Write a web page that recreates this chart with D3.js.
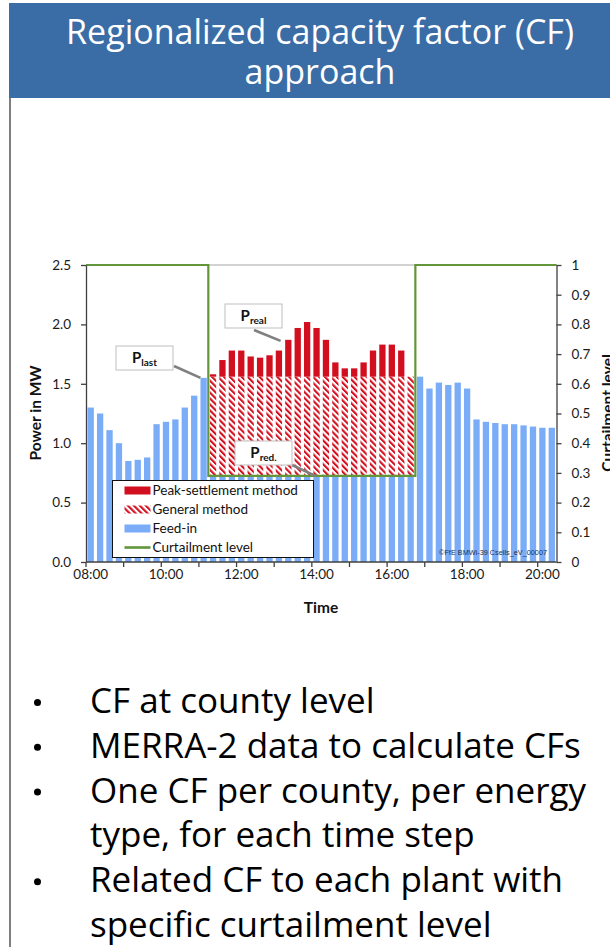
<!DOCTYPE html>
<html>
<head>
<meta charset="utf-8">
<script src="https://cdn.jsdelivr.net/npm/d3@7/dist/d3.min.js"></script>
<style>
  html, body { margin: 0; padding: 0; background: #fff; }
  svg { display: block; }
</style>
</head>
<body>
<svg id="slide" width="610" height="947"></svg>
<script>
// Quarter-hour time steps (categories)
const times = [
  "08:00","08:15","08:30","08:45","09:00","09:15","09:30","09:45",
  "10:00","10:15","10:30","10:45","11:00","11:15","11:30","11:45",
  "12:00","12:15","12:30","12:45","13:00","13:15","13:30","13:45",
  "14:00","14:15","14:30","14:45","15:00","15:15","15:30","15:45",
  "16:00","16:15","16:30","16:45","17:00","17:15","17:30","17:45",
  "18:00","18:15","18:30","18:45","19:00","19:15","19:30","19:45",
  "20:00","20:15"
];

// Feed-in power in MW
const feedIn = [
  1.30, 1.25, 1.11, 1.00, 0.85, 0.86, 0.88, 1.16, 1.18, 1.20, 1.30, 1.40, 1.55,
  0.73, 0.73, 0.73, 0.73, 0.73, 0.73, 0.73, 0.73, 0.73, 0.73, 0.73,
  0.73, 0.73, 0.73, 0.73, 0.73, 0.73, 0.73, 0.73, 0.73, 0.73, 0.73,
  1.56, 1.46, 1.51, 1.49, 1.51, 1.46, 1.20, 1.18, 1.17, 1.16, 1.16, 1.15, 1.14, 1.13, 1.13
];

// Upper edge of the general-method block (P_red) in MW, null outside the curtailment
const generalLevel = [
  null, null, null, null, null, null, null, null, null, null, null, null, null,
  1.56, 1.56, 1.56, 1.56, 1.56, 1.56, 1.56, 1.56, 1.56, 1.56, 1.56,
  1.56, 1.56, 1.56, 1.56, 1.56, 1.56, 1.56, 1.56, 1.56, 1.56, 1.56,
  null, null, null, null, null, null, null, null, null, null, null, null, null, null, null
];

// Real power (P_real) in MW, upper edge of the peak-settlement block
const realPower = [
  null, null, null, null, null, null, null, null, null, null, null, null, null,
  1.58, 1.70, 1.78, 1.78, 1.73, 1.72, 1.74, 1.78, 1.87, 1.97, 2.02,
  1.97, 1.87, 1.68, 1.63, 1.63, 1.68, 1.78, 1.83, 1.83, 1.78, 1.56,
  null, null, null, null, null, null, null, null, null, null, null, null, null, null, null
];

// Curtailment level (share of installed capacity)
const curtailment = [
  1, 1, 1, 1, 1, 1, 1, 1, 1, 1, 1, 1, 1,
  0.29, 0.29, 0.29, 0.29, 0.29, 0.29, 0.29, 0.29, 0.29, 0.29, 0.29,
  0.29, 0.29, 0.29, 0.29, 0.29, 0.29, 0.29, 0.29, 0.29, 0.29, 0.29,
  1, 1, 1, 1, 1, 1, 1, 1, 1, 1, 1, 1, 1, 1, 1
];

const powerTicks = [0, 0.5, 1.0, 1.5, 2.0, 2.5];
const levelTicks = [0, 0.1, 0.2, 0.3, 0.4, 0.5, 0.6, 0.7, 0.8, 0.9, 1];
const timeLabels = ["08:00", "10:00", "12:00", "14:00", "16:00", "18:00", "20:00"];
const hourMarks = ["08:00","09:00","10:00","11:00","12:00","13:00","14:00","15:00","16:00","17:00","18:00","19:00","20:00"];

const legendItems = [
  { label: "Peak-settlement method", kind: "peak" },
  { label: "General method", kind: "general" },
  { label: "Feed-in", kind: "feed" },
  { label: "Curtailment level", kind: "line" }
];

const titleLines = ["Regionalized capacity factor (CF)", "approach"];
const bulletLines = [
  { text: "CF at county level", bullet: true },
  { text: "MERRA-2 data to calculate CFs", bullet: true },
  { text: "One CF per county, per energy", bullet: true },
  { text: "type, for each time step", bullet: false },
  { text: "Related CF to each plant with", bullet: true },
  { text: "specific curtailment level", bullet: false }
];

// ---------- styles ----------
const BLUE = "#7aacf7";
const RED = "#d20f1f";
const GREEN = "#62963a";
const AXIS = "#404040";
const chartFont = "Lato, 'Open Sans', sans-serif";
const slideFont = "'Open Sans', 'Noto Sans', sans-serif";

const svg = d3.select("#slide");

// Slide header
svg.append("rect").attr("x", 9).attr("y", 3).attr("width", 601).attr("height", 95)
  .attr("fill", "#3a6ca6");
svg.append("line").attr("x1", 10).attr("x2", 10).attr("y1", 98).attr("y2", 947)
  .attr("stroke", "#7f7f7f").attr("stroke-width", 2);

svg.append("g").selectAll("text").data(titleLines).join("text")
  .attr("x", 320).attr("y", (d, i) => 44 + i * 40)
  .attr("text-anchor", "middle")
  .attr("font-family", slideFont).attr("font-size", 34)
  .attr("fill", "#fff")
  .text(d => d);

// Hatch for the general method
const defs = svg.append("defs");
defs.append("pattern")
  .attr("id", "hatch").attr("patternUnits", "userSpaceOnUse")
  .attr("width", 4.2).attr("height", 4.2)
  .attr("patternTransform", "rotate(-45)")
  .call(p => {
    p.append("rect").attr("width", 4.2).attr("height", 4.2).attr("fill", "#fff");
    p.append("rect").attr("width", 2.1).attr("height", 4.2).attr("fill", RED);
  });

// ---------- scales ----------
const x = d3.scaleBand().domain(times).range([86, 556.5]).paddingInner(0.33).paddingOuter(0.165);
const y = d3.scaleLinear().domain([0, 2.5]).range([562, 265]);
const y2 = d3.scaleLinear().domain([0, 1]).range([562, 265]);
const leftEdge = d => x(d) - x.step() * x.paddingInner() / 2;

const chart = svg.append("g");

// Plot-area top border
chart.append("line").attr("x1", 86).attr("x2", 556.5).attr("y1", 265).attr("y2", 265)
  .attr("stroke", "#a6a6a6").attr("stroke-width", 1);

const idx = d3.range(times.length);

// Feed-in bars
chart.append("g").selectAll("rect").data(idx).join("rect")
  .attr("x", i => x(times[i])).attr("width", x.bandwidth())
  .attr("y", i => y(feedIn[i])).attr("height", i => y(0) - y(feedIn[i]))
  .attr("fill", BLUE);

// General method (hatched) between feed-in and P_red
const genIdx = idx.filter(i => generalLevel[i] != null);
chart.append("g").selectAll("rect").data(genIdx).join("rect")
  .attr("x", i => x(times[i])).attr("width", x.bandwidth())
  .attr("y", i => y(generalLevel[i])).attr("height", i => y(feedIn[i]) - y(generalLevel[i]))
  .attr("fill", "url(#hatch)");

// Peak-settlement method between P_red and P_real
const peakIdx = idx.filter(i => realPower[i] != null && realPower[i] > generalLevel[i]);
chart.append("g").selectAll("rect").data(peakIdx).join("rect")
  .attr("x", i => x(times[i])).attr("width", x.bandwidth())
  .attr("y", i => y(realPower[i])).attr("height", i => y(generalLevel[i]) - y(realPower[i]))
  .attr("fill", RED);

// Curtailment level as a step line on the secondary axis
const stepPts = idx.map(i => [leftEdge(times[i]), y2(curtailment[i])]);
stepPts.push([x.range()[1], y2(curtailment[curtailment.length - 1])]);
chart.append("path")
  .attr("d", d3.line().curve(d3.curveStepAfter)(stepPts))
  .attr("fill", "none").attr("stroke", GREEN).attr("stroke-width", 2.2);

// ---------- axes ----------
const styleAxis = g => {
  g.selectAll(".domain").attr("stroke", AXIS).attr("stroke-width", 1.3);
  g.selectAll(".tick line").attr("stroke", AXIS).attr("stroke-width", 1.3);
  g.selectAll("text").attr("font-family", chartFont).attr("font-size", 13.5).attr("fill", "#1a1a1a");
};

svg.append("g").attr("transform", "translate(86,0)")
  .call(d3.axisLeft(y).tickValues(powerTicks).tickFormat(d3.format(".1f"))
    .tickSize(5).tickSizeOuter(0).tickPadding(10))
  .call(styleAxis);

svg.append("g").attr("transform", "translate(556.5,0)")
  .call(d3.axisRight(y2).tickValues(levelTicks).tickFormat(d => String(+d.toFixed(1)))
    .tickSize(5).tickSizeOuter(0).tickPadding(10))
  .call(styleAxis);

// Category axis: hourly marks between bars, labels under every second hour
const xAxis = svg.append("g").attr("transform", "translate(0,562)");
xAxis.append("line").attr("x1", 86).attr("x2", 556.5).attr("stroke", AXIS).attr("stroke-width", 1.3);
xAxis.selectAll("line.mark").data(hourMarks).join("line").attr("class", "mark")
  .attr("x1", d => leftEdge(d)).attr("x2", d => leftEdge(d))
  .attr("y1", 0).attr("y2", 5).attr("stroke", AXIS).attr("stroke-width", 1.3);
xAxis.selectAll("text").data(timeLabels).join("text")
  .attr("x", d => x(d) + x.bandwidth() / 2).attr("y", 17)
  .attr("text-anchor", "middle")
  .attr("font-family", chartFont).attr("font-size", 13.5).attr("fill", "#1a1a1a")
  .text(d => d);

// Axis titles
svg.append("text").attr("x", 321).attr("y", 613).attr("text-anchor", "middle")
  .attr("font-family", chartFont).attr("font-weight", "bold").attr("font-size", 15.5)
  .attr("fill", "#111").text("Time");
svg.append("text").attr("transform", "translate(41,413) rotate(-90)").attr("text-anchor", "middle")
  .attr("font-family", chartFont).attr("font-weight", "bold").attr("font-size", 15.5)
  .attr("fill", "#111").text("Power in MW");
svg.append("text").attr("transform", "translate(613,413) rotate(-90)").attr("text-anchor", "middle")
  .attr("font-family", chartFont).attr("font-weight", "bold").attr("font-size", 15.5)
  .attr("fill", "#111").text("Curtailment level");

// Source note
svg.append("text").attr("x", 547).attr("y", 555).attr("text-anchor", "end")
  .attr("font-family", "'Liberation Sans', Arial, sans-serif").attr("font-size", 7.3)
  .attr("fill", "#1f3050").text("©FfE BMWi-39 Csells_eV_00007");

// ---------- legend ----------
const legend = svg.append("g").attr("transform", "translate(112.5,480.5)");
legend.append("rect").attr("width", 201).attr("height", 77)
  .attr("fill", "#fff").attr("stroke", "#111").attr("stroke-width", 1);
const rows = legend.selectAll("g").data(legendItems).join("g")
  .attr("transform", (d, i) => `translate(0,${10 + i * 19})`);
rows.each(function(d) {
  const g = d3.select(this);
  if (d.kind === "line") {
    g.append("rect").attr("x", 12).attr("y", -1.3).attr("width", 26).attr("height", 2.6).attr("fill", GREEN);
  } else {
    g.append("rect").attr("x", 12).attr("y", -4).attr("width", 26).attr("height", 8)
      .attr("fill", d.kind === "peak" ? RED : d.kind === "general" ? "url(#hatch)" : BLUE);
  }
});
rows.append("text").attr("x", 40).attr("y", 0).attr("dy", "0.35em")
  .attr("font-family", chartFont).attr("font-size", 13.5).attr("fill", "#111")
  .text(d => d.label);

// ---------- annotations ----------
function callout(box, sub, target) {
  const g = svg.append("g");
  g.append("line")
    .attr("x1", box.lx).attr("y1", box.ly).attr("x2", target[0]).attr("y2", target[1])
    .attr("stroke", "#808080").attr("stroke-width", 2.6);
  g.append("rect").attr("x", box.x).attr("y", box.y).attr("width", box.w).attr("height", box.h)
    .attr("fill", "#fff").attr("stroke", "#bfbfbf").attr("stroke-width", 1);
  const t = g.append("text").attr("x", box.x + box.w / 2).attr("y", box.y + box.h / 2 + 5)
    .attr("text-anchor", "middle").attr("font-family", chartFont).attr("font-weight", "bold")
    .attr("fill", "#111");
  t.append("tspan").attr("font-size", 15).text("P");
  t.append("tspan").attr("font-size", 10).attr("dy", 3).text(sub);
}
callout({ x: 116, y: 346, w: 57, h: 24, lx: 174, ly: 366 }, "last",
  [x(times[12]), y(feedIn[12])]);
callout({ x: 225, y: 304, w: 57, h: 24, lx: 254, ly: 330 }, "real",
  [leftEdge(times[21]) - 3, y(realPower[21]) + 1]);
callout({ x: 235, y: 441, w: 57, h: 24, lx: 292, ly: 465 }, "red.",
  [x(times[24]) + 2, y2(curtailment[24])]);

// ---------- bullet list ----------
const list = svg.append("g");
bulletLines.forEach((d, i) => {
  const yy = 713 + i * 44.8;
  if (d.bullet) {
    list.append("circle").attr("cx", 37.5).attr("cy", yy - 10.5).attr("r", 3.5).attr("fill", "#000");
  }
  list.append("text").attr("x", 90).attr("y", yy)
    .attr("font-family", slideFont).attr("font-size", 35).attr("fill", "#000").text(d.text);
});
</script>
</body>
</html>
